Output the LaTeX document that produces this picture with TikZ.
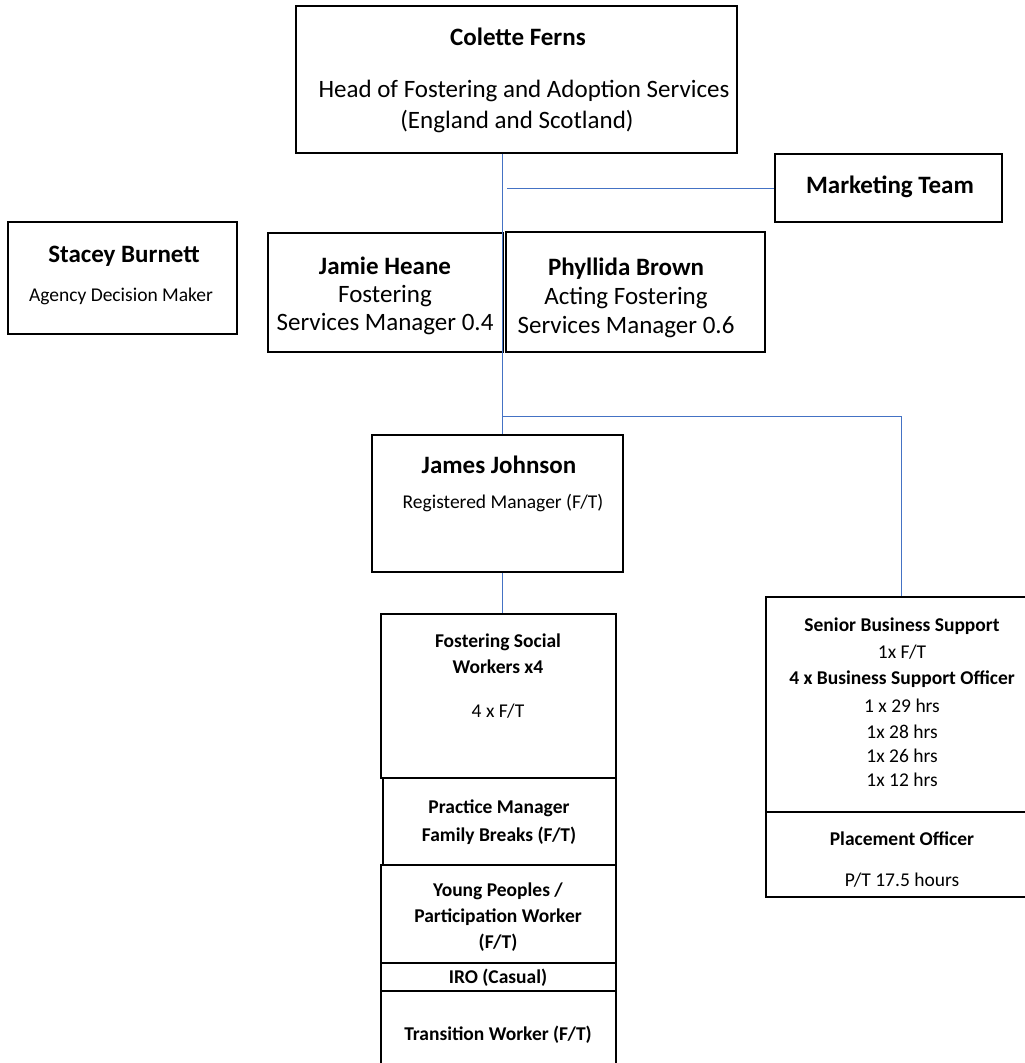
\documentclass[tikz,border=0pt]{standalone}
\usepackage{fontspec}
\setmainfont{Carlito}
\usetikzlibrary{positioning}
\definecolor{Link}{HTML}{4472C4}
\tikzset{unit/.style={draw=black,line width=1.6pt,inner sep=0pt},
  link/.style={draw=Link,line width=1pt},
  bigname/.style={font=\fontsize{25}{30}\selectfont\bfseries,anchor=base,inner sep=0pt},
  bigrole/.style={font=\fontsize{25}{30}\selectfont,anchor=base,inner sep=0pt},
  subname/.style={font=\fontsize{19.5}{24}\selectfont\bfseries,anchor=base,inner sep=0pt},
  subrole/.style={font=\fontsize{19.5}{24}\selectfont,anchor=base,inner sep=0pt}}

\begin{document}
\begin{tikzpicture}[x=1pt,y=-1pt]
\clip (0,0) rectangle (1025,1063);
% boxes
\node[unit,minimum width=441pt,minimum height=147pt] (colette) at (516.5,79.5) {};
\node[unit,minimum width=227pt,minimum height=68pt] (marketing) at (888.5,188) {};
\node[unit,minimum width=229pt,minimum height=112pt] (stacey) at (122.5,278) {};
\node[unit,minimum width=235pt,minimum height=119pt] (jamie) at (385.5,292.5) {};
\node[unit,minimum width=259pt,minimum height=120pt] (phyllida) at (635.5,292) {};
\node[unit,minimum width=251pt,minimum height=137pt] (james) at (497.5,503.5) {};
\node[unit,minimum width=235pt,minimum height=164pt] (fsw) at (498.5,696) {};
\node[unit,minimum width=233pt,minimum height=87pt] (practice) at (499.5,821.5) {};
\node[unit,minimum width=235pt,minimum height=98pt] (young) at (498.5,914) {};
\node[unit,minimum width=235pt,minimum height=28pt] (iro) at (498.5,977) {};
\node[unit,minimum width=235pt,minimum height=100pt] (transition) at (498.5,1041) {};
\node[unit,minimum width=274pt,minimum height=215pt] (senior) at (903,704.5) {};
\node[unit,minimum width=274pt,minimum height=85pt] (placement) at (903,854.5) {};

% texts
\node[bigname] (coletteName) at (518,45) {Colette Ferns};
\node[bigrole] (coletteRole) at (524,97) {Head of Fostering and Adoption Services};
\node[bigrole] (coletteArea) at (517,128) {(England and Scotland)};
\node[bigname] (marketingName) at (890,193) {Marketing Team};
\node[bigname] (staceyName) at (124,262) {Stacey Burnett};
\node[subrole] (staceyRole) at (121,301) {Agency Decision Maker};
\node[bigname] (jamieName) at (385,274) {Jamie Heane};
\node[bigrole] (jamieRoleA) at (385,302) {Fostering};
\node[bigrole] (jamieRoleB) at (385,330) {Services Manager 0.4};
\node[bigname] (phyllidaName) at (626,275) {Phyllida Brown};
\node[bigrole] (phyllidaRoleA) at (626,304) {Acting Fostering};
\node[bigrole] (phyllidaRoleB) at (626,333) {Services Manager 0.6};
\node[bigname] (jamesName) at (499,473) {James Johnson};
\node[subrole] (jamesRole) at (503,508) {Registered Manager (F/T)};
\node[subname] (fswNameA) at (498,647) {Fostering Social};
\node[subname] (fswNameB) at (498,673) {Workers x4};
\node[subrole] (fswRole) at (498,717) {4 x F/T};
\node[subname] (practiceA) at (499,813) {Practice Manager};
\node[subname] (practiceB) at (499,841) {Family Breaks (F/T)};
\node[subname] (youngA) at (498,896) {Young Peoples /};
\node[subname] (youngB) at (498,922) {Participation Worker};
\node[subname] (youngC) at (498,948) {(F/T)};
\node[subname] (iroName) at (498,983) {IRO (Casual)};
\node[subname] (transitionName) at (498,1040) {Transition Worker (F/T)};
\node[subname] (seniorName) at (902,631) {Senior Business Support};
\node[subrole] (seniorRole) at (902,658) {1x F/T};
\node[subname] (officerName) at (902,684) {4 x Business Support Officer};
\node[subrole] (hoursA) at (902,712) {1 x 29 hrs};
\node[subrole] (hoursB) at (902,738) {1x 28 hrs};
\node[subrole] (hoursC) at (902,762) {1x 26 hrs};
\node[subrole] (hoursD) at (902,786) {1x 12 hrs};
\node[subname] (placementName) at (902,845) {Placement Officer};
\node[subrole] (placementRole) at (902,886) {P/T 17.5 hours};

% connectors
\coordinate (spine) at (502,0);
\coordinate (mktJoin) at (507,188);
\coordinate (bsJoin) at (901,416);
\draw[link] (colette.south -| spine) -- (james.north -| spine);
\draw[link] (mktJoin) -- (marketing.west);
\draw[link] (spine |- bsJoin) -- (bsJoin) -- (bsJoin |- senior.north);
\draw[link] (james.south -| spine) -- (fsw.north -| spine);
\end{tikzpicture}
\end{document}
